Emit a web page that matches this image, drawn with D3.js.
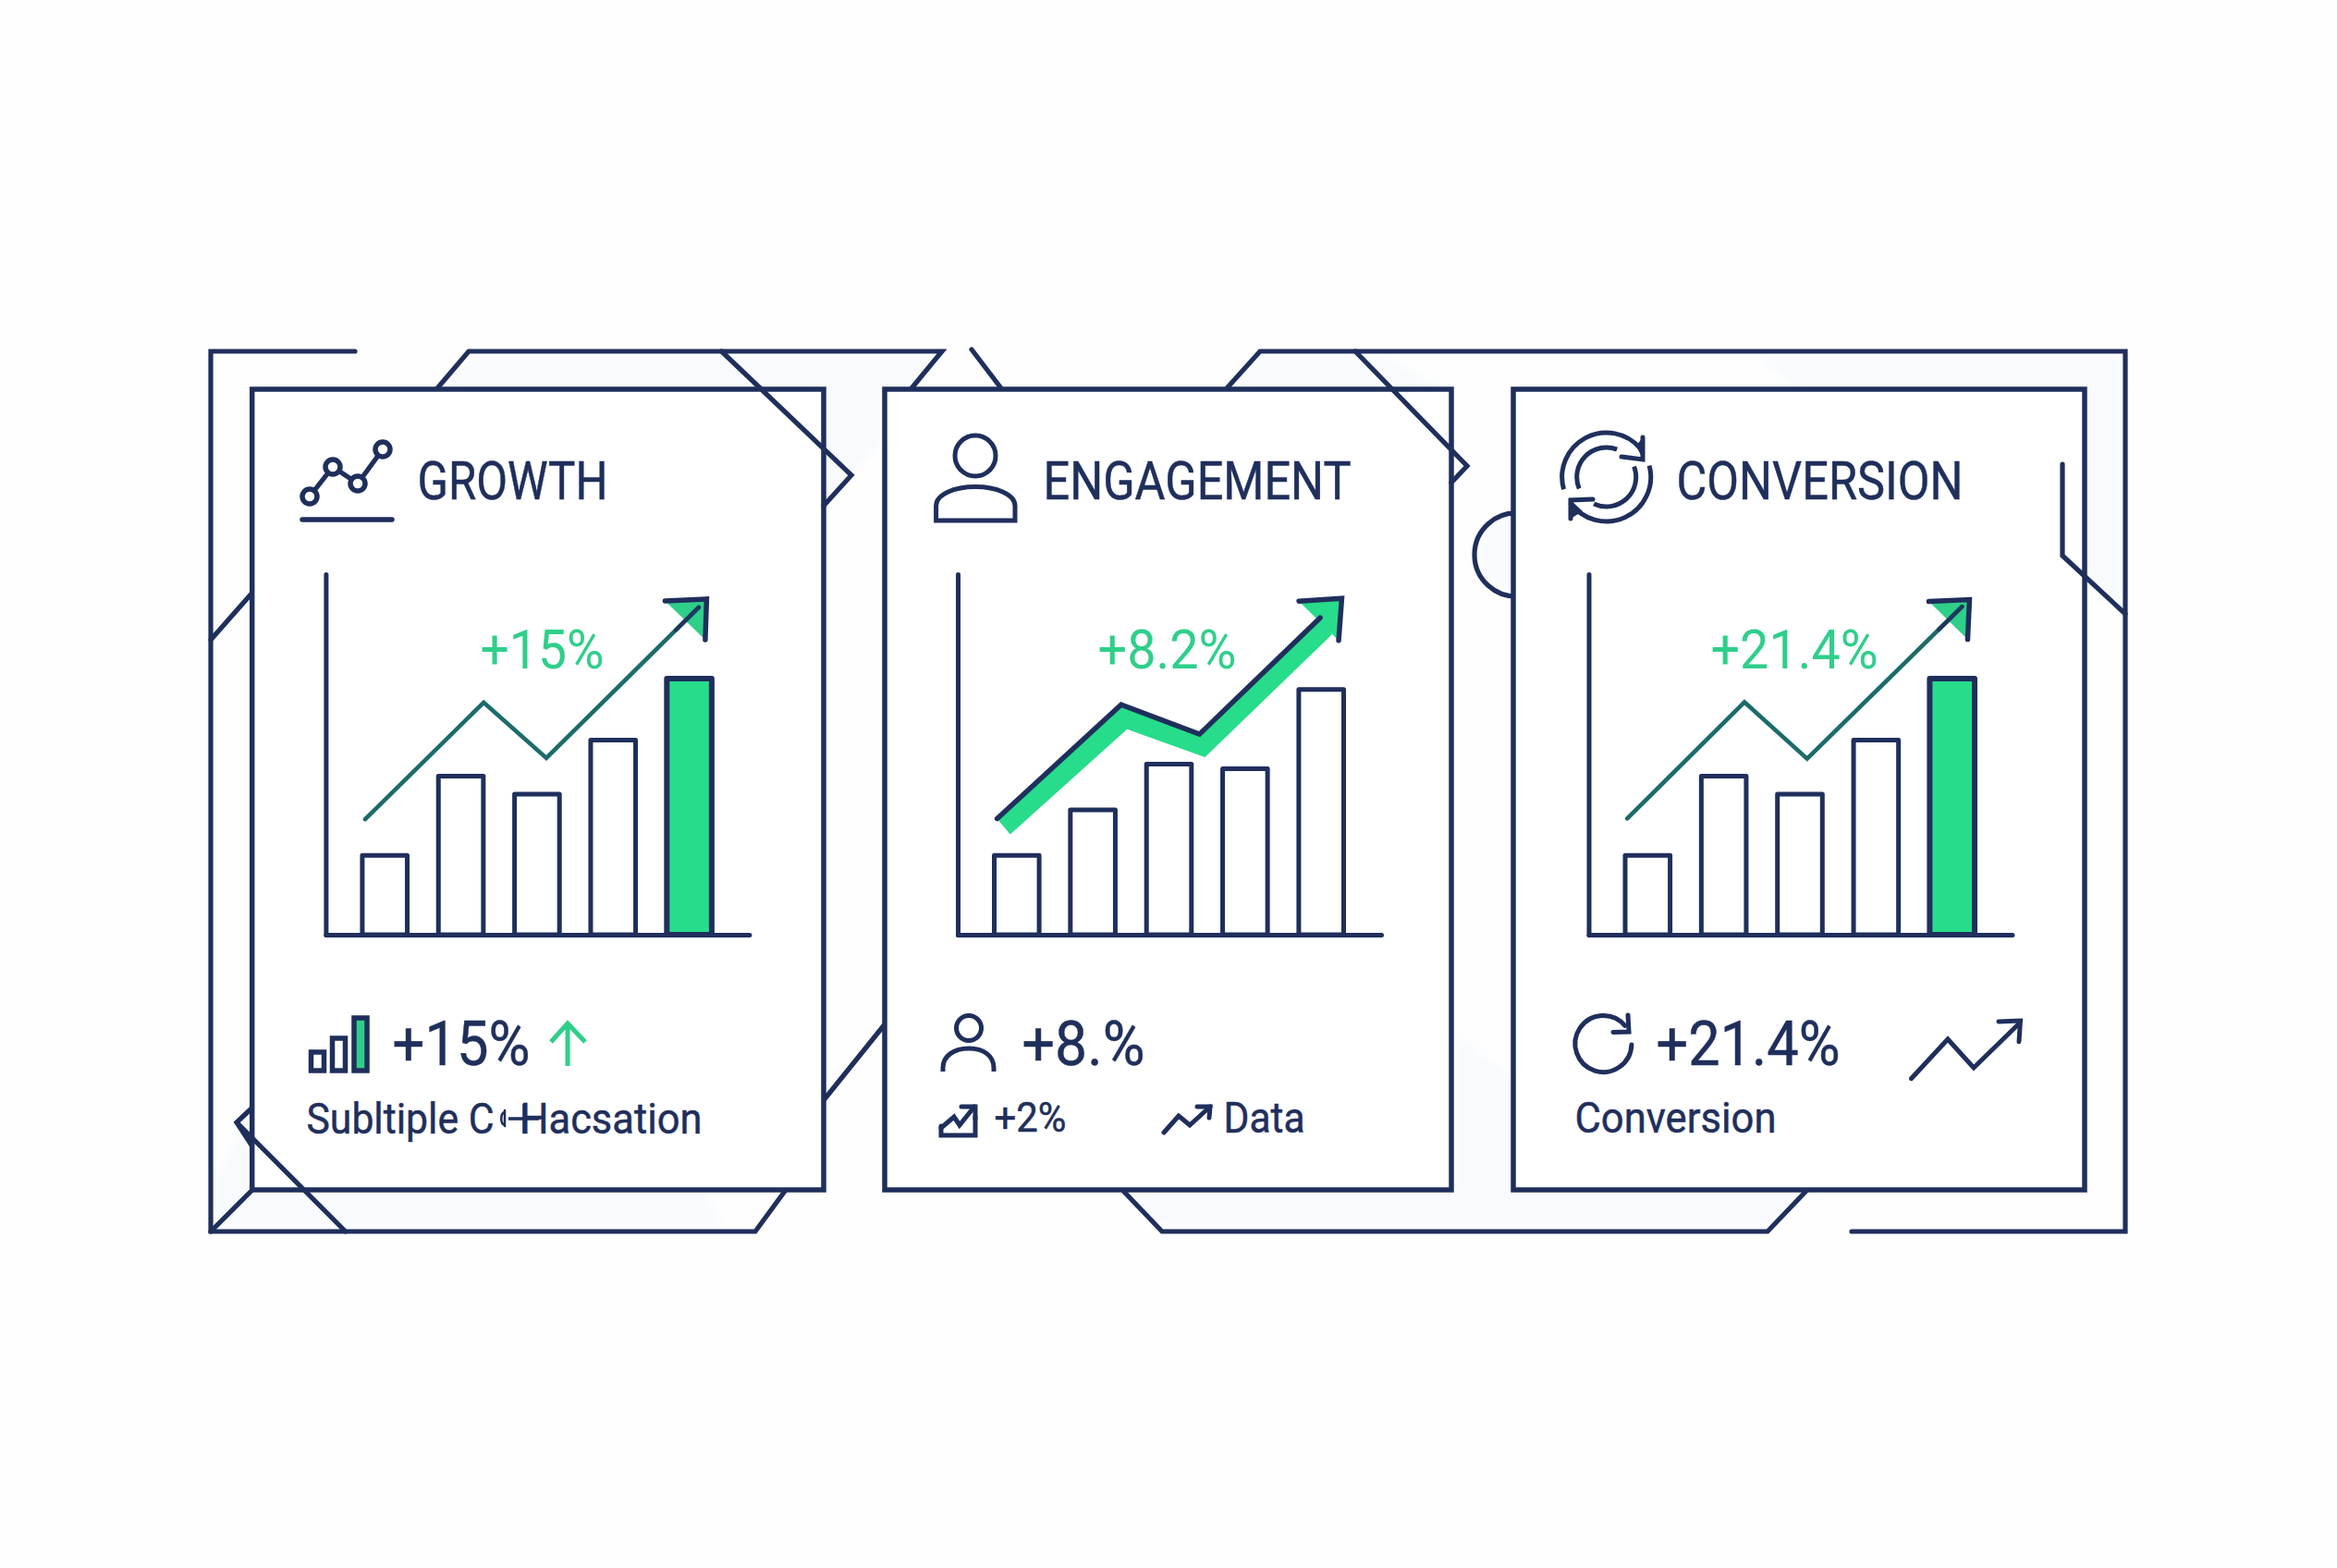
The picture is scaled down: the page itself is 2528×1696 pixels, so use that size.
<!DOCTYPE html>
<html><head><meta charset="utf-8">
<script src="https://cdn.jsdelivr.net/npm/d3@7/dist/d3.min.js"></script>
<style>html,body{margin:0;padding:0;background:#fefefe}svg{display:block}text{font-family:Roboto,"Liberation Sans",sans-serif}</style>
</head><body><svg id="c" width="2528" height="1696"></svg>
<script>
// ---- data ----
const categories = ["1","2","3","4","5"];
const titles = ["GROWTH","ENGAGEMENT","CONVERSION"];
const growthBars = [22,44,39,54,71];
const engagementBars = [22,34.6,47.3,46,68];
const conversionBars = [22,44,39,54,71];
const growthTrendX = [9.3,37.3,52.1,88.1];
const growthTrendY = [32,64.4,49,90.8];
const engagementTrendX = [9.3,38.6,57.1,85.6];
const engagementTrendY = [32.2,63.8,55.6,87.9];
const engagementBandX = [12.4,40,58.4,88.4];
const engagementBandY = [27.8,57,49.2,83.3];
const conversionTrendX = [9.1,36.8,51.6,88.2];
const conversionTrendY = [32.2,64.5,48.8,91];
const chartLabels = ["+15%","+8.2%","+21.4%"];
const summaryLabels = ["+15%","+8.%","+21.4%"];
const captionParts = ["Subltiple C","Hacsation","+2%","Data","Conversion"];

// ---- layout and style ----
const NAVY="#1f2f5c", GREEN="#27dc8a", LABEL="#2fcf8a", TEAL="#1c6b6b", PALE="#f8fafd";
const LW=5.2;
const svg=d3.select("#c");
svg.append("rect").attr("width",2528).attr("height",1696).attr("fill","#fefefe");
const defs=svg.append("defs");
defs.append("filter").attr("id","soft").attr("x","-10%").attr("y","-10%").attr("width","120%").attr("height","120%")
  .append("feGaussianBlur").attr("stdDeviation",5);
const poly=(pts,close=false)=>"M"+pts.map(p=>p.join(",")).join("L")+(close?"Z":"");
const stroke=(sel,w=LW)=>sel.attr("fill","none").attr("stroke",NAVY).attr("stroke-width",w).attr("stroke-linecap","round").attr("stroke-linejoin","miter");
const path=(g,d,w)=>stroke(g.append("path").attr("d",d),w);
function label(g,s,x0,x1,y,size,color=NAVY){
  const sel=g.append("text").attr("x",x0-1.5).attr("y",y).attr("font-size",size).attr("fill",color)
    .attr("textLength",x1-x0+4).attr("lengthAdjust","spacingAndGlyphs").text(s);
  if(color===NAVY) sel.attr("stroke",NAVY).attr("stroke-width",0.5);
  return sel;
}

// pale backdrop shapes
const back=svg.append("g").attr("fill",PALE).attr("filter","url(#soft)");
[
 [[507,386],[1019,386],[986,420],[473,420]],
 [[891,420],[957,420],[957,475],[921,514],[891,545]],
 [[1363,386],[1500,386],[1560,420],[1327,420]],
 [[1900,386],[2294,386],[2294,650],[2255,622],[2255,420],[1945,420]],
 [[234,1326],[234,1270],[272,1200],[272,1287],[760,1287],[785,1326]],
 [[1214,1287],[1955,1287],[1912,1326],[1257,1326]],
 [[1575,1120],[1637,1165],[1637,1287],[1575,1287]]
].forEach(p=>back.append("path").attr("d",poly(p,true)));
back.append("circle").attr("cx",1640).attr("cy",600).attr("r",40);

// frame pieces that pass behind the cards
const frame=svg.append("g");
[
 [[384,380],[228,380],[228,1332],[817,1332],[850,1287]],
 [[228,692],[273,641]],
 [[228,1332],[273,1287]],
 [[473,420],[507,380],[1019,380],[986,420]],
 [[1051,378],[1083,420]],
 [[1327,420],[1363,380],[2299,380],[2299,1332],[2003,1332]],
 [[891,1190],[957,1108]],
 [[1214,1287],[1257,1332],[1912,1332],[1955,1287]],
 [[273,1198],[256,1214],[273,1240]]
].forEach(p=>path(frame,poly(p)));
const ring=d3.path(); ring.arc(1640,600,45,Math.PI*0.47,Math.PI*1.53);
path(frame,ring.toString());

// cards
const cardX=[[272.7,891],[957,1570],[1637,2255]];
cardX.forEach(([a,b])=>{
  stroke(svg.append("rect").attr("x",a).attr("y",421).attr("width",b-a).attr("height",866),5.5).attr("fill","#fff");
});

// frame lines that cross over the cards
const over=svg.append("g");
[
 [[780.5,380],[921,514],[891,547]],
 [[1466,380],[1587,504],[1570,522]],
 [[256,1214],[373.7,1332]],
 [[2231,502],[2231,601],[2299,664]]
].forEach(p=>path(over,poly(p)));

// small charts
const Y0=1011,YT=621,W=458;
const charts=[
 {ax:352.4,bars:growthBars,tx:growthTrendX,ty:growthTrendY,accent:true,head:[[-36.5,-7],[8.5,-9],[7,35]]},
 {ax:1036,bars:engagementBars,tx:engagementTrendX,ty:engagementTrendY,accent:false,head:[[-23,-18],[23.4,-21],[20,24.6]],bx:engagementBandX,by:engagementBandY},
 {ax:1718.5,bars:conversionBars,tx:conversionTrendX,ty:conversionTrendY,accent:true,head:[[-36,-5.5],[8,-7.5],[6,35.5]]}
];
charts.forEach(c=>{
  const g=svg.append("g");
  const x=d3.scaleLinear().domain([0,100]).range([c.ax,c.ax+W]);
  const y=d3.scaleLinear().domain([0,100]).range([Y0,YT]);
  const band=d3.scaleBand().domain(categories).range([c.ax+39.5,c.ax+417.5]).paddingInner(0.41).paddingOuter(0);
  const last=c.bars.length-1;
  g.selectAll("rect.bar").data(c.bars).join("rect").attr("class","bar")
    .attr("x",(d,i)=>band(categories[i])).attr("y",d=>y(d))
    .attr("width",band.bandwidth()).attr("height",d=>Y0-y(d))
    .attr("fill",(d,i)=>c.accent&&i===last?GREEN:"#fff")
    .attr("stroke",NAVY).attr("stroke-width",(d,i)=>c.accent&&i===last?6:5).attr("stroke-linejoin","round");
  const pts=c.tx.map((v,i)=>[x(v),y(c.ty[i])]);
  const end=pts[pts.length-1], prev=pts[pts.length-2];
  const headPts=c.head.map(o=>[end[0]+o[0],end[1]+o[1]]);
  if(c.bx){
    const low=c.bx.map((v,i)=>[x(v),y(c.by[i])]);
    g.append("path").attr("d",poly(pts.concat(low.slice().reverse()),true)).attr("fill",GREEN);
  }
  g.append("path").attr("d",poly(headPts,true)).attr("fill",c.bx?GREEN:"#2fcf8a");
  const line=d3.line();
  if(c.bx){
    path(g,line(pts),5.5);
  }else{
    stroke(g.append("path").attr("d",line(pts)),4.6).attr("stroke",TEAL);
    const t=0.85;
    path(g,line([[prev[0]+(end[0]-prev[0])*t,prev[1]+(end[1]-prev[1])*t],end]),4.6).attr("opacity",0.85);
  }
  path(g,poly(headPts),5.5);
  // axes
  const ay=g.append("g").attr("transform",`translate(${c.ax},0)`).call(d3.axisLeft(y).tickValues([]).tickSizeOuter(0));
  const ax=g.append("g").attr("transform",`translate(0,${Y0})`).call(d3.axisBottom(x).tickValues([]).tickSizeOuter(0));
  [ay,ax].forEach(a=>a.select(".domain").attr("stroke",NAVY).attr("stroke-width",5).attr("stroke-linecap","round"));
});

const t=svg.append("g");
// titles
label(t,titles[0],453,655,539.5,57);
label(t,titles[1],1130,1459,539.5,57);
label(t,titles[2],1815,2121,539.5,57);
// labels in the charts
label(t,chartLabels[0],521,651,722.5,60,LABEL);
label(t,chartLabels[1],1189,1335,722.5,60,LABEL);
label(t,chartLabels[2],1852,2029,722.5,60,LABEL);
// summary values
label(t,summaryLabels[0],426,571,1152,67);
label(t,summaryLabels[1],1107,1236,1152,67);
label(t,summaryLabels[2],1793,1988,1152,67);
// captions
label(t,captionParts[0],333,532,1225.5,47);
label(t,captionParts[1],564,757,1225.5,47);
label(t,captionParts[2],1077,1151,1224,45);
label(t,captionParts[3],1325,1409,1225,47);
label(t,captionParts[4],1705,1919,1225,47);

// icons
const ic=svg.append("g");
// growth header icon
path(ic,poly([[335,537],[360,505],[387,523],[414,486]]));
[[335,537],[360,505],[387,523],[414,486]].forEach(p=>stroke(ic.append("circle").attr("cx",p[0]).attr("cy",p[1]).attr("r",8),5.5).attr("fill","#fff"));
path(ic,"M327,562H424",5.5);
// person header icon
stroke(ic.append("circle").attr("cx",1055).attr("cy",493).attr("r",22),5);
path(ic,"M1012.6,563V547C1012.6,535 1032,526.5 1055,526.5C1078,526.5 1098,535 1098,547V563Z",5);
// cycle header icon
const cx=1737.7,cy=516,rad=a=>a*Math.PI/180;
[[48,164,320],[48,-15,145],[32,157,291],[32,-21,115]].forEach(([r,a,b])=>{
  const p=d3.path(); p.arc(cx,cy,r,rad(a),rad(b)); path(ic,p.toString(),5).attr("stroke-linecap","butt");
});
ic.append("path").attr("d","M1770,482L1777,473V497Z").attr("fill",NAVY);
path(ic,"M1777,473V497L1754,494",5);
ic.append("path").attr("d","M1699,541L1699,561L1712,553Z").attr("fill",NAVY);
path(ic,"M1699,561V541L1723,540",5);
// bars summary icon
[[336.5,1138,14,20,false],[359.5,1123,14,35,false],[383,1101,14,57,true]].forEach(([a,b,w,h,f])=>{
  ic.append("rect").attr("x",a).attr("y",b).attr("width",w).attr("height",h).attr("fill",f?LABEL:"#fff").attr("stroke",NAVY).attr("stroke-width",5.5);
});
// green up arrow
const up=ic.append("g").attr("fill","none").attr("stroke",LABEL).attr("stroke-width",5);
up.append("path").attr("d","M614,1153V1108M596,1127L614,1107L633,1127");
// person summary icon
stroke(ic.append("circle").attr("cx",1048).attr("cy",1112).attr("r",13.5),5);
path(ic,"M1020,1159V1155C1020,1142 1032,1134 1048,1134C1064,1134 1075,1142 1075,1155V1159",5).attr("stroke-linecap","butt");
// refresh summary icon
const rp=d3.path(); rp.arc(1734.4,1129,30.5,rad(2),rad(-40)+Math.PI*2); path(ic,rp.toString(),5);
path(ic,"M1761,1098L1762,1116L1745,1116.5",5);
// caption icons
path(ic,poly([[1018,1220],[1032,1208],[1038,1217],[1054,1197]]),5);
path(ic,"M1040,1197H1055V1210",5);
path(ic,"M1018,1218V1228H1055V1208",5);
path(ic,poly([[1259,1225],[1275,1207],[1287,1217],[1309,1197]]),5);
path(ic,"M1295,1197H1309L1308,1209",5);
path(ic,poly([[2067.4,1166.7],[2107,1124],[2135,1155],[2184.5,1106.7]]),5);
path(ic,"M2162,1105L2185.5,1104L2184,1126.7",5);
// garbled mark inside the first caption
path(ic,"M550,1210H583M567,1194V1226",3.5).attr("stroke-linecap","butt");
path(ic,"M546,1203C541,1204 541,1216 546,1217M546,1201V1218",2.5);
</script></body></html>
